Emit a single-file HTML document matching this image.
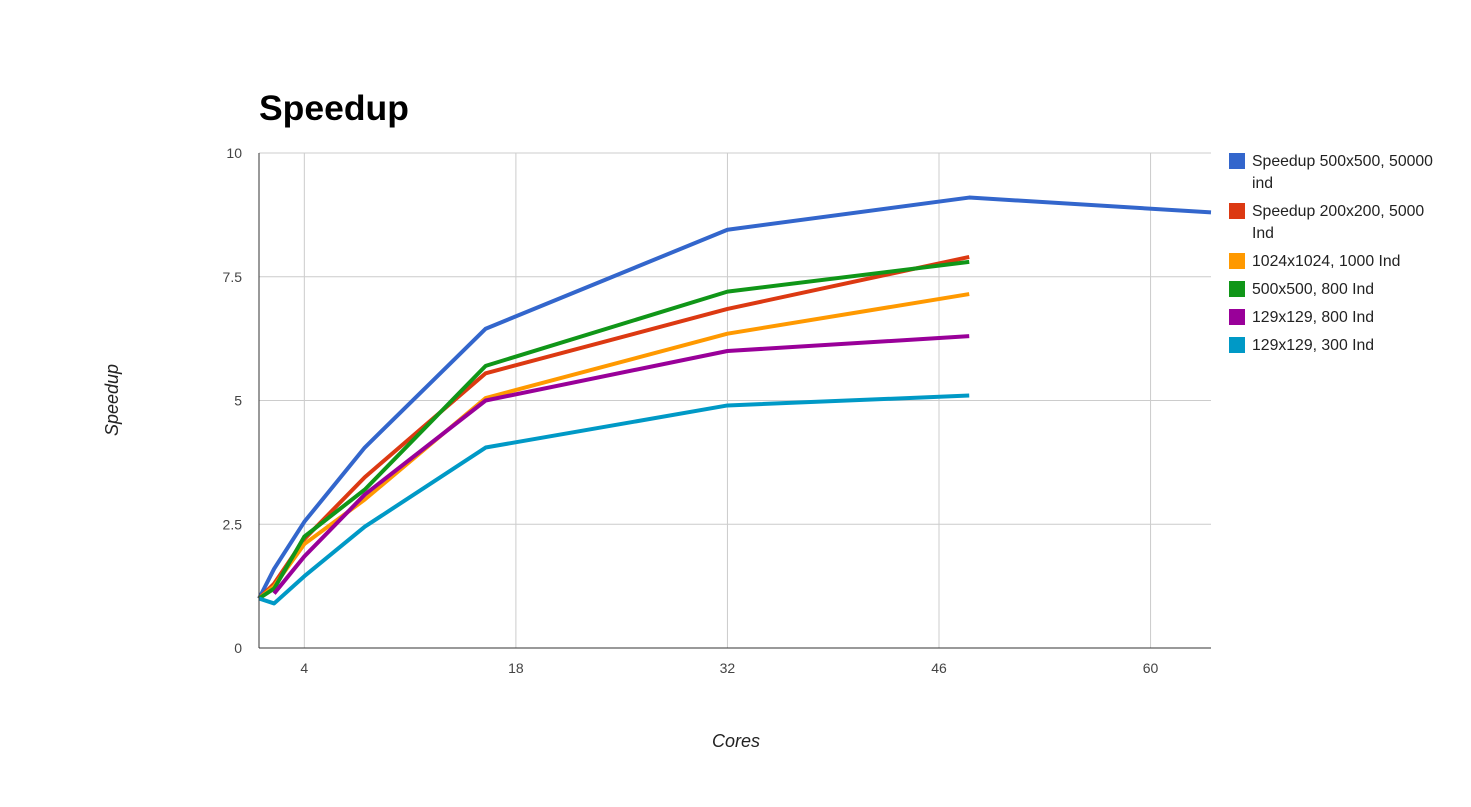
<!DOCTYPE html>
<html><head><meta charset="utf-8"><style>
body{margin:0;background:#fff;width:1471px;height:802px;overflow:hidden;font-family:"Liberation Sans",Arial,sans-serif}
</style></head><body>
<svg id="chart" width="1471" height="802" xmlns="http://www.w3.org/2000/svg" font-family="Liberation Sans, Arial, sans-serif">
<text x="259" y="120" font-size="35.5" font-weight="bold" fill="#000">Speedup</text>
<text transform="translate(118,400) rotate(-90)" text-anchor="middle" font-size="18" font-style="italic" fill="#222">Speedup</text>
<text x="736" y="747" text-anchor="middle" font-size="18" font-style="italic" fill="#222">Cores</text>
<g id="grid"></g><g id="series"></g><g id="axes"></g><g id="legend"></g>
</svg>
<script>
const xTicks=[4,18,32,46,60];
const yTicks=[0,2.5,5,7.5,10];
const yTickLabels=["0","2.5","5","7.5","10"];
const seriesNames=["Speedup 500x500, 50000 ind","Speedup 200x200, 5000 Ind","1024x1024, 1000 Ind","500x500, 800 Ind","129x129, 800 Ind","129x129, 300 Ind"];
const seriesColors=["#3366cc","#dc3912","#ff9900","#109618","#990099","#0099c6"];
const coresBlue=[1,2,4,8,16,32,48,64];
const coresStd=[1,2,4,8,16,32,48];
const coresPurple=[2,4,8,16,32,48];
const s0=[1,1.6,2.55,4.05,6.45,8.45,9.1,8.8];
const s1=[1,1.3,2.2,3.45,5.55,6.85,7.9];
const s2=[1,1.25,2.1,3.0,5.05,6.35,7.15];
const s3=[1,1.2,2.25,3.2,5.7,7.2,7.8];
const s4=[1.1,1.85,3.1,5.0,6.0,6.3];
const s5=[1,0.9,1.45,2.45,4.05,4.9,5.1];
const X0=259,X1=1211,Y0=648,Y1=153,xmin=1,xmax=64,ymax=10;
const sx=v=>X0+(v-xmin)/(xmax-xmin)*(X1-X0);
const sy=v=>Y0-v/ymax*(Y0-Y1);
const NS="http://www.w3.org/2000/svg";
function mk(tag,attrs,parent){const e=document.createElementNS(NS,tag);for(const k in attrs)e.setAttribute(k,attrs[k]);parent.appendChild(e);return e;}
const grid=document.getElementById('grid'),axes=document.getElementById('axes'),ser=document.getElementById('series'),leg=document.getElementById('legend');
xTicks.forEach(t=>{const l=mk('line',{x1:sx(t),x2:sx(t),y1:Y1,y2:Y0,stroke:'#cccccc'},grid);


const tx=mk('text',{x:sx(t),y:Y0+25,'text-anchor':'middle','font-size':14,fill:'#444'},axes);tx.textContent=t;

});
yTicks.forEach((t,i)=>{if(t>0){const l=mk('line',{x1:X0,x2:X1,y1:sy(t),y2:sy(t),stroke:'#cccccc'},grid);

}
const tx=mk('text',{x:X0-17,y:sy(t)+5,'text-anchor':'end','font-size':14,fill:'#444'},axes);tx.textContent=yTickLabels[i];

});
const ax=mk('line',{x1:X0,x2:X1,y1:Y0,y2:Y0,stroke:'#333'},axes);


const ay=mk('line',{x1:X0,x2:X0,y1:Y1,y2:Y0,stroke:'#333'},axes);


const data=[[coresBlue,s0],[coresStd,s1],[coresStd,s2],[coresStd,s3],[coresPurple,s4],[coresStd,s5]];
data.forEach((d,i)=>{const pts=d[0].map((c,j)=>sx(c)+','+sy(d[1][j])).join(' ');
const p=mk('polyline',{points:pts,fill:'none',stroke:seriesColors[i],'stroke-width':4,'stroke-linejoin':'round'},ser);

});
const legY=[153,203,253,281,309,337];
seriesNames.forEach((n,i)=>{const g=mk('g',{},leg);


mk('rect',{x:1229,y:legY[i],width:16,height:16,fill:seriesColors[i]},g);
const words=n.split(' ');let lines=[n];
if(n.length>20){lines=[words.slice(0,-1).join(' '),words[words.length-1]];}
lines.forEach((ln,k)=>{const t=mk('text',{x:1252,y:legY[i]+13+k*22,'font-size':15.8,fill:'#222'},g);t.textContent=ln;});});
</script>
</body></html>
